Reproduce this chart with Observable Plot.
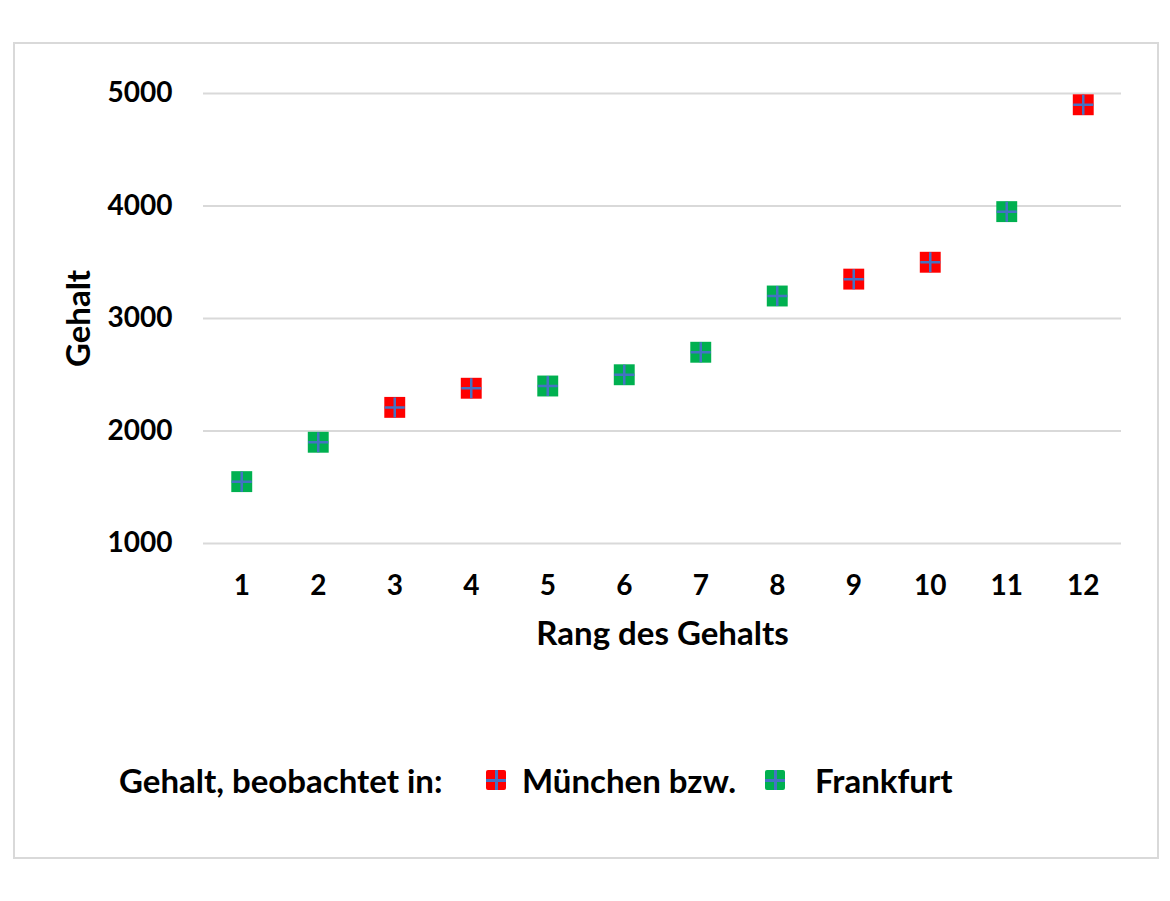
<!DOCTYPE html>
<html>
<head>
<meta charset="utf-8">
<script src="https://cdn.jsdelivr.net/npm/d3@7"></script>
<script src="https://cdn.jsdelivr.net/npm/@observablehq/plot@0.6"></script>
<style>
  html, body { margin: 0; padding: 0; background: #fff; }
  body { width: 1170px; height: 901px; position: relative; overflow: hidden; font-family: Lato, "Open Sans", sans-serif; font-weight: bold; }
  #frame { position: absolute; left: 13px; top: 42px; width: 1142px; height: 813px; border: 2px solid #d9d9d9; }
  #chart { position: absolute; left: 0; top: 0; }
  #legend { position: absolute; left: 0; top: 760px; width: 1170px; height: 40px; font-size: 33px; color: #000; white-space: nowrap; }
  #legend .t { position: absolute; top: 0; line-height: 40px; }
  .sw { position: absolute; top: 10px; width: 20px; height: 20px; border-radius: 2px; }
  .sw::before { content: ""; position: absolute; left: 9px; top: 0; width: 2.5px; height: 20px; background: #4472c4; }
  .sw::after { content: ""; position: absolute; top: 9px; left: 0; height: 2.5px; width: 20px; background: #4472c4; }
</style>
</head>
<body>
<div id="frame"></div>
<div id="chart"></div>
<div id="legend">
  <span class="t" style="left:119px;">Gehalt, beobachtet in:</span>
  <span class="sw" style="background:#ff0000; left:486px;"></span>
  <span class="t" style="left:522px;">München bzw.</span>
  <span class="sw" style="background:#00b050; left:765px;"></span>
  <span class="t" style="left:815px;">Frankfurt</span>
</div>
<script>
// Data
const ranks = [1, 2, 3, 4, 5, 6, 7, 8, 9, 10, 11, 12];
const salaries = [1550, 1900, 2210, 2380, 2400, 2500, 2700, 3200, 3350, 3500, 3950, 4900];
const cities = ["Frankfurt", "Frankfurt", "München", "München", "Frankfurt", "Frankfurt", "Frankfurt", "Frankfurt", "München", "München", "Frankfurt", "München"];
const yTicks = [1000, 2000, 3000, 4000, 5000];
const cityNames = ["München", "Frankfurt"];
const cityColors = ["#ff0000", "#00b050"];

const data = ranks.map((r, i) => ({rank: r, salary: salaries[i], city: cities[i]}));

const plusSymbol = {
  draw(ctx, size) {
    const h = 10;
    ctx.moveTo(-h, 0); ctx.lineTo(h, 0);
    ctx.moveTo(0, -h); ctx.lineTo(0, h);
  }
};

const chart = Plot.plot({
  width: 1170,
  height: 680,
  marginLeft: 203,
  marginRight: 49,
  marginTop: 93,
  marginBottom: 137,
  style: {fontFamily: "Lato, 'Open Sans', sans-serif", fontWeight: "bold", fontSize: "28px", color: "#000", background: "transparent", overflow: "visible"},
  x: {domain: [0.5, 12.5]},
  y: {domain: [1000, 5000]},
  color: {domain: cityNames, range: cityColors},
  marks: [
    Plot.gridY(yTicks, {stroke: "#d9d9d9", strokeOpacity: 1, strokeWidth: 2}),
    Plot.axisX(ranks, {tickSize: 0, tickPadding: 32, tickFormat: d => String(d), label: null}),
    Plot.axisX({ticks: [], tickSize: 0, label: "Rang des Gehalts", labelAnchor: "center", labelOffset: 101, labelArrow: false, fontSize: 33}),
    Plot.axisY(yTicks, {tickSize: 0, tickPadding: 31, tickFormat: d => String(d), label: null}),
    Plot.axisY({ticks: [], tickSize: 0, label: "Gehalt", labelAnchor: "center", labelOffset: 137, labelArrow: false, fontSize: 33}),
    Plot.dot(data, {x: "rank", y: "salary", symbol: "square", r: 11.8, fill: "city"}),
    Plot.dot(data, {x: "rank", y: "salary", symbol: plusSymbol, r: 10, stroke: "#4472c4", strokeWidth: 2.5, fill: "none"})
  ]
});
document.getElementById("chart").appendChild(chart);
</script>
</body>
</html>
